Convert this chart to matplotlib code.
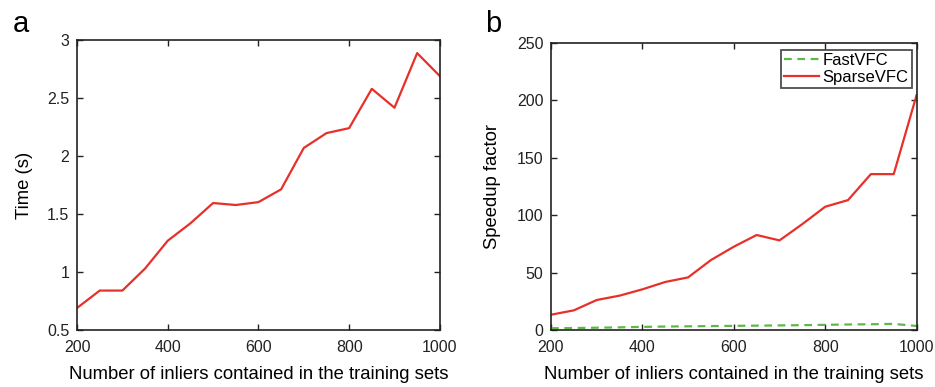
import matplotlib.pyplot as plt

plt.rcParams['font.family'] = ['Liberation Sans', 'DejaVu Sans']

x = [200, 250, 300, 350, 400, 450, 500, 550, 600, 650, 700, 750, 800, 850, 900, 950, 1000]
time_s = [0.69, 0.84, 0.84, 1.03, 1.27, 1.42, 1.595, 1.578, 1.603, 1.713, 2.07, 2.198,
          2.241, 2.58, 2.417, 2.888, 2.69]
fastvfc = [1.5, 1.7, 2.0, 2.3, 2.7, 3.0, 3.2, 3.4, 3.6, 3.8, 4.0, 4.2, 4.5, 4.8, 5.0, 5.3, 3.5]
sparsevfc = [13.3, 17.1, 26.1, 29.9, 35.4, 41.8, 45.8, 60.9, 72.5, 82.7, 78.0, 92.2,
             107.3, 113.1, 135.7, 135.7, 204.5]

red = '#e8302a'
green = '#5cb947'
xlab = 'Number of inliers contained in the training sets'

fig = plt.figure(figsize=(9.35, 3.87), dpi=100)
ax1 = fig.add_axes([0.0824, 0.1473, 0.388, 0.749])
ax2 = fig.add_axes([0.5893, 0.1473, 0.391, 0.742])

# a: time
ax1.plot(x, time_s, '-', color=red, lw=1.6)
ax1.set_xlim(200, 1000)
ax1.set_ylim(0.5, 3)
ax1.set_xticks([200, 400, 600, 800, 1000])
ax1.set_yticks([0.5, 1, 1.5, 2, 2.5, 3])
ax1.set_yticklabels(['0.5', '1', '1.5', '2', '2.5', '3'])
ax1.set_ylabel('Time (s)', fontsize=13.3, labelpad=10)

# b: speedup
ax2.plot(x, fastvfc, '--', color=green, lw=1.6, label='FastVFC', dashes=(3.5, 2.5))
ax2.plot(x, sparsevfc, '-', color=red, lw=1.6, label='SparseVFC')
ax2.set_xlim(200, 1000)
ax2.set_ylim(0, 250)
ax2.set_xticks([200, 400, 600, 800, 1000])
ax2.set_yticks([0, 50, 100, 150, 200, 250])
ax2.set_ylabel('Speedup factor', fontsize=13.3, labelpad=11)
leg = ax2.legend(loc='upper right', bbox_to_anchor=(912 / 935, 1 - 50 / 387),
                 bbox_transform=fig.transFigure, fontsize=12, frameon=True,
                 fancybox=False, edgecolor='#222222', handlelength=2.1,
                 handletextpad=0.2, borderpad=0.2, labelspacing=0.1,
                 borderaxespad=0)
leg.get_frame().set_linewidth(1.3)

for ax in (ax1, ax2):
    ax.set_xlabel(xlab, fontsize=13.3, labelpad=8)
    ax.tick_params(axis='both', direction='in', top=True, right=True, labelsize=11.5,
                   length=4, width=1, colors='#222222', labelcolor='#222222')
    ax.tick_params(axis='x', pad=7)
    ax.tick_params(axis='y', pad=5.5)
    for s in ax.spines.values():
        s.set_linewidth(1.2)
        s.set_color('#222222')

fig.text(0.014, 1 - 32 / 387, 'a', fontsize=21, color='black')
fig.text(485 / 935, 1 - 32 / 387, 'b', fontsize=21, color='black')

fig.savefig('out.png', dpi=100)
